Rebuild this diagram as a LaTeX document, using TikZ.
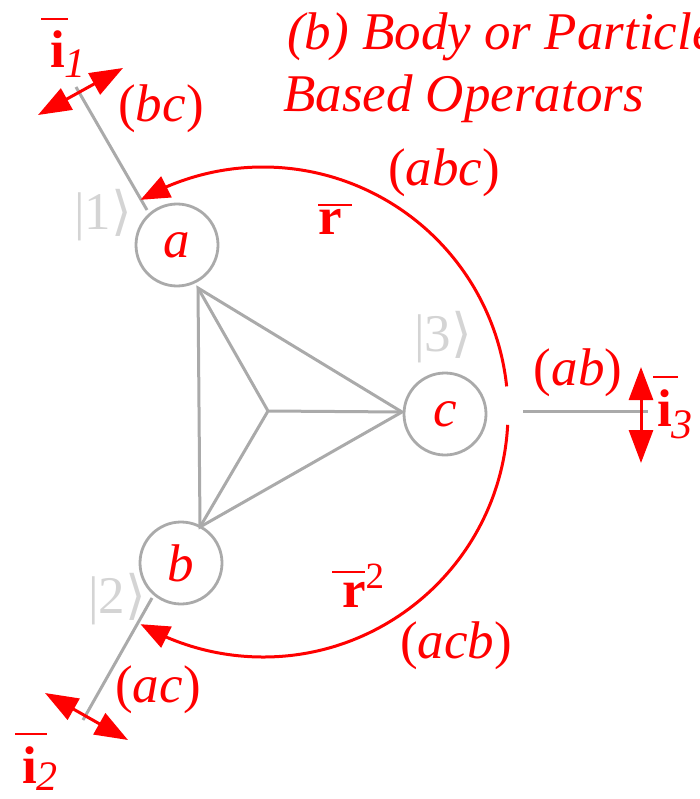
\documentclass[tikz,border=0pt]{standalone}
\usepackage{fontspec}
\setmainfont{Liberation Serif}
\newfontfamily\djv{DejaVu Sans}
\usetikzlibrary{arrows.meta,bending}
\definecolor{myred}{RGB}{255,0,0}
\definecolor{edgegray}{RGB}{170,170,170}
\definecolor{ketgray}{RGB}{212,212,212}
\newcommand\barred[4]{\makebox[0pt][l]{\hspace*{#1}\raisebox{#3}{\rule{#2}{2.6pt}}}#4}
\newcommand\myket[1]{|#1{\djv\char"27E9}}
\begin{document}
\begin{tikzpicture}[x=1pt,y=-1pt,
  every node/.style={inner sep=0pt, font=\fontsize{53}{60}\selectfont},
  lbl/.style={text=myred},
  ketlbl/.style={text=ketgray},
  body/.style={circle, draw=edgegray, line width=2.8pt, minimum size=82pt, text=myred, font=\fontsize{53}{60}\selectfont\itshape},
  edge/.style={draw=edgegray, line width=3pt},
  rot/.style={draw=myred, line width=3pt, -{Triangle[length=29pt,width=23pt]}},
  dbl/.style={draw=myred, line width=3pt, {Triangle[length=33pt,width=24pt]}-{Triangle[length=33pt,width=24pt]}},
]
\path[use as bounding box, clip] (0,0) rectangle (700,799);

% bodies
\node[body] (a) at (177,245) {a};
\node[body] (b) at (181,563) {b};
\node[body] (c) at (445,414) {c};

% inner triangle
\coordinate (ta) at (198,288);
\coordinate (tb) at (200,527);
\coordinate (tc) at (402,412);
\coordinate (tm) at (268,411);
\draw[edge] (ta) -- (tb) -- (tc) -- cycle;
\draw[edge] (tm) -- (ta) (tm) -- (tb) (tm) -- (tc);

% outer legs
\coordinate (a1) at (147,210); \coordinate (a2) at (76,87);
\coordinate (b1) at (152,598); \coordinate (b2) at (83,720);
\coordinate (c1) at (523,411); \coordinate (c2) at (648,411);
\draw[edge] (a1) -- (a2);
\draw[edge] (b1) -- (b2);
\draw[edge] (c1) -- (c2);

% double arrows
\coordinate (p1a) at (38,115); \coordinate (p1b) at (123,68);
\coordinate (p2a) at (45,693); \coordinate (p2b) at (128,740);
\coordinate (p3a) at (641,367); \coordinate (p3b) at (641,463);
\draw[dbl] (p1a) -- (p1b);
\draw[dbl] (p2a) -- (p2b);
\draw[dbl] (p3a) -- (p3b);

% rotation arcs
\coordinate (o) at (263,412);
\draw[rot] (o) ++(-6:245) arc[start angle=-6, end angle=-120, radius=245];
\draw[rot] (o) ++(3:245) arc[start angle=3, end angle=120, radius=245];

% title
\node[lbl, anchor=base west] (t1) at (287,50) {\itshape (b) Body or Particle};
\node[lbl, anchor=base west] (t2) at (283,112) {\itshape Based Operators};

% permutation labels
\node[lbl] (bc) at (161,109) {(\textit{bc})};
\node[lbl] (abc) at (444,173) {(\textit{abc})};
\node[lbl] (ab) at (578,373) {(\textit{ab})};
\node[lbl] (ac) at (158,690) {(\textit{ac})};
\node[lbl] (acb) at (456,646) {(\textit{acb})};

% kets
\node[ketlbl] (k1) at (103,215) {\myket{1}};
\node[ketlbl] (k2) at (117,599) {\myket{2}};
\node[ketlbl] (k3) at (443,337) {\myket{3}};

% rotation operators
\node[lbl, anchor=base west] (r1) at (318,235) {\barred{0pt}{34pt}{28.7pt}{\textbf{r}}};
\node[lbl, anchor=base west] (r2) at (342,607) {\barred{-10pt}{33pt}{33.7pt}{\textbf{r}}\raisebox{19pt}{\fontsize{37}{37}\selectfont 2}};

% inversion operators
\node[lbl, anchor=base west] (i1) at (50,68) {\barred{-9pt}{27pt}{47.7pt}{\textbf{i}}\raisebox{-10pt}{\fontsize{42}{42}\selectfont\itshape 1}};
\node[lbl, anchor=base west] (i2) at (22,783) {\barred{-7pt}{32pt}{47.7pt}{\textbf{i}}\raisebox{-7pt}{\fontsize{42}{42}\selectfont\itshape 2}};
\node[lbl, anchor=base west] (i3) at (657,426) {\barred{-4pt}{25pt}{47.7pt}{\textbf{i}}\raisebox{-12pt}{\fontsize{42}{42}\selectfont\itshape 3}};
\end{tikzpicture}
\end{document}
